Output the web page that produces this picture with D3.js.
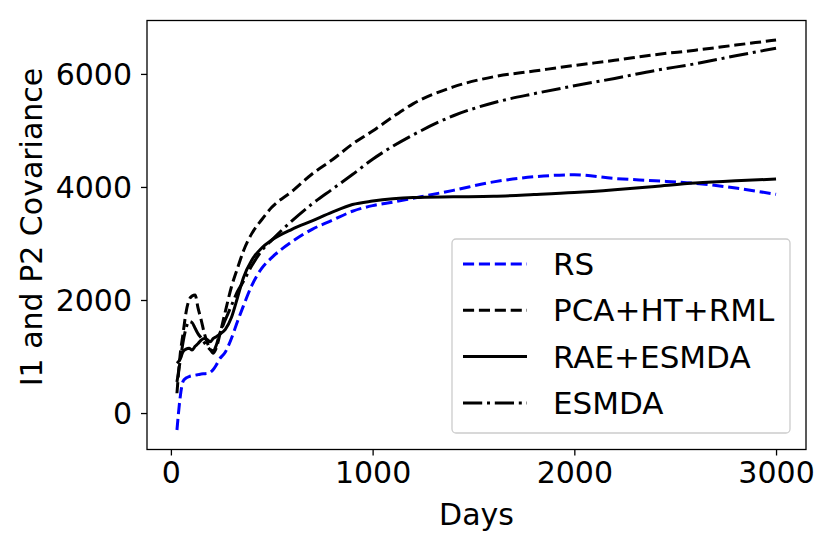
<!DOCTYPE html>
<html>
<head>
<meta charset="utf-8">
<script src="https://cdn.jsdelivr.net/npm/d3@7"></script>
<style>
  body { margin: 0; background: #fff; }
  svg { display: block; font-family: "DejaVu Sans", sans-serif; }
</style>
</head>
<body>
<svg id="chart" width="830" height="546"></svg>
<script>
// data
var days = [30, 45, 60, 75, 90, 105, 120, 135, 150, 165, 180, 195, 210, 225, 240, 270, 300, 330, 360, 400,
	450, 500, 600, 700, 800, 900, 1000, 1100, 1200, 1400, 1600, 1800, 2000, 2200, 2400, 2600, 2800, 3000]
var rs = [-300, 250, 560, 620, 645, 660, 670, 680, 690, 695, 700, 720, 770, 850, 950, 1080, 1320, 1620, 1900, 2250,
	2560, 2750, 3030, 3250, 3410, 3570, 3670, 3730, 3800, 3940, 4090, 4180, 4215, 4150, 4110, 4065, 3980, 3870]
var pca = [350, 1000, 1400, 1780, 2000, 2070, 2090, 1850, 1650, 1420, 1250, 1130, 1060, 1150, 1350, 1800, 2230, 2560, 2870, 3170,
	3420, 3640, 3920, 4230, 4480, 4760, 4990, 5240, 5470, 5770, 5950, 6050, 6150, 6240, 6340, 6420, 6510, 6600]
var rae = [880, 950, 1085, 1130, 1145, 1115, 1180, 1230, 1290, 1320, 1300, 1260, 1320, 1350, 1390, 1480, 1690, 2040, 2400, 2700,
	2920, 3060, 3250, 3400, 3555, 3690, 3750, 3790, 3812, 3825, 3835, 3865, 3900, 3950, 4010, 4070, 4110, 4140]
var esmda = [550, 900, 1250, 1500, 1620, 1600, 1500, 1400, 1330, 1250, 1180, 1120, 1100, 1200, 1380, 1650, 1900, 2150, 2330, 2600,
	2870, 3060, 3400, 3700, 3960, 4220, 4490, 4720, 4920, 5260, 5490, 5650, 5790, 5920, 6060, 6180, 6320, 6455]
var seriesNames = ["RS", "PCA+HT+RML", "RAE+ESMDA", "ESMDA"]
var xTicks = [0, 1000, 2000, 3000]
var yTicks = [0, 2000, 4000, 6000]

var LW = 3
var styles = [
	{ color: "#0000ff", dash: (3.7 * LW) + "," + (1.6 * LW) },
	{ color: "#000", dash: (3.7 * LW) + "," + (1.6 * LW) },
	{ color: "#000", dash: null },
	{ color: "#000", dash: [6.4 * LW, 1.6 * LW, 1 * LW, 1.6 * LW].join(",") }
]
var series = [rs, pca, rae, esmda].map((vals, i) => ({
	name: seriesNames[i],
	style: styles[i],
	points: vals.map((v, j) => ({ x: days[j], y: v }))
}))

// plot box
var boxLeft = 147, boxRight = 806, boxTop = 20.5, boxBottom = 449.5
var svg = d3.select("#chart")

// matplotlib-like 5% margins
var xExt = d3.extent(days)
var xPad = (xExt[1] - xExt[0]) * 0.05
var allY = rs.concat(pca, rae, esmda)
var yExt = d3.extent(allY)
var yPad = (yExt[1] - yExt[0]) * 0.05
var x = d3.scaleLinear().domain([xExt[0] - xPad, xExt[1] + xPad]).range([boxLeft, boxRight])
var y = d3.scaleLinear().domain([yExt[0] - yPad, yExt[1] + yPad]).range([boxBottom, boxTop])

var line = d3.line()
	.x(d => x(d.x))
	.y(d => y(d.y))
	.curve(d3.curveMonotoneX)

svg.append("defs").append("clipPath").attr("id", "clip")
	.append("rect")
	.attr("x", boxLeft).attr("y", boxTop)
	.attr("width", boxRight - boxLeft).attr("height", boxBottom - boxTop)

var lines = svg.append("g").attr("clip-path", "url(#clip)")
lines.selectAll("path").data(series).enter().append("path")
	.attr("d", d => line(d.points))
	.attr("fill", "none")
	.attr("stroke", d => d.style.color)
	.attr("stroke-width", LW)
	.attr("stroke-dasharray", d => d.style.dash)

// axes
var xAxis = svg.append("g")
	.attr("transform", "translate(0," + boxBottom + ")")
	.call(d3.axisBottom(x).tickValues(xTicks).tickSize(6).tickPadding(6).tickFormat(d3.format("d")))
var yAxis = svg.append("g")
	.attr("transform", "translate(" + boxLeft + ",0)")
	.call(d3.axisLeft(y).tickValues(yTicks).tickSize(6).tickPadding(9).tickFormat(d3.format("d")))
svg.selectAll(".domain").remove()
svg.selectAll(".tick line").attr("stroke", "#000").attr("stroke-width", 1.3)
svg.selectAll(".tick text")
	.attr("font-family", "DejaVu Sans")
	.attr("font-size", "30px")
	.attr("fill", "#000")
yAxis.selectAll(".tick text").attr("dy", "0.36em")

// frame
svg.append("rect")
	.attr("x", boxLeft).attr("y", boxTop)
	.attr("width", boxRight - boxLeft).attr("height", boxBottom - boxTop)
	.attr("fill", "none")
	.attr("stroke", "#000")
	.attr("stroke-width", 1.3)

// axis labels
svg.append("text")
	.attr("x", (boxLeft + boxRight) / 2)
	.attr("y", 525)
	.attr("text-anchor", "middle")
	.attr("font-size", "30px")
	.text("Days")
svg.append("text")
	.attr("transform", "translate(42," + ((boxTop + boxBottom) / 2 - 8) + ") rotate(-90)")
	.attr("text-anchor", "middle")
	.attr("font-size", "30px")
	.text("I1 and P2 Covariance")

// legend
var legend = svg.append("g")
legend.append("rect")
	.attr("x", 452).attr("y", 239)
	.attr("width", 338).attr("height", 194)
	.attr("rx", 4)
	.attr("fill", "#fff")
	.attr("fill-opacity", 0.8)
	.attr("stroke", "#cccccc")
	.attr("stroke-width", 1.3)
var rowY = d => 264 + d * 46.3
var items = legend.selectAll("g.item").data(series).enter().append("g").attr("class", "item")
items.append("line")
	.attr("x1", 463).attr("x2", 527)
	.attr("y1", (d, i) => rowY(i)).attr("y2", (d, i) => rowY(i))
	.attr("stroke", d => d.style.color)
	.attr("stroke-width", LW)
	.attr("stroke-dasharray", d => d.style.dash)
items.append("text")
	.attr("x", 553)
	.attr("y", (d, i) => rowY(i) + 11)
	.attr("font-size", "31px")
	.text(d => d.name)
</script>
</body>
</html>
